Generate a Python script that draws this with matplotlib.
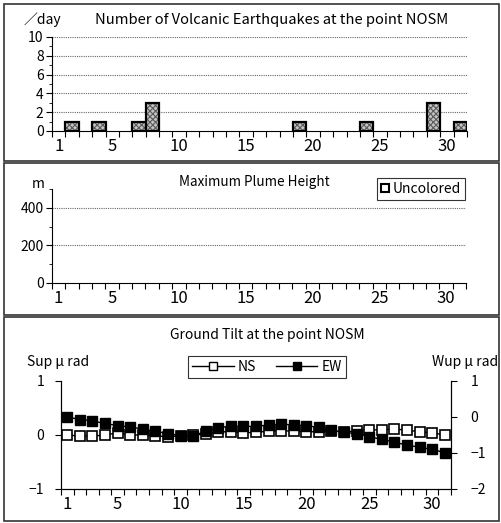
import numpy as np
import matplotlib
matplotlib.use('Agg')
from matplotlib import pyplot as plt
from matplotlib.patches import Rectangle
from matplotlib.lines import Line2D

plt.rcParams['font.family'] = ['Noto Sans CJK JP', 'DejaVu Sans']
plt.rcParams['hatch.linewidth'] = 0.8

W, H = 501, 523

days = np.arange(1, 32)
quake_days = [2, 4, 7, 8, 19, 24, 29, 31]
quake_counts = [1, 1, 1, 3, 1, 1, 3, 1]

ns_tilt = [0.0, -0.02, -0.02, 0.0, 0.04, 0.0, 0.0, -0.02, -0.03, -0.02,
           0.0, 0.02, 0.06, 0.06, 0.04, 0.05, 0.07, 0.08, 0.07, 0.06,
           0.06, 0.08, 0.06, 0.07, 0.09, 0.1, 0.11, 0.09, 0.06, 0.04, 0.0]
ew_tilt = [0.0, -0.07, -0.11, -0.18, -0.24, -0.28, -0.33, -0.4, -0.46, -0.52,
           -0.52, -0.4, -0.3, -0.25, -0.26, -0.26, -0.22, -0.2, -0.22, -0.24,
           -0.29, -0.37, -0.43, -0.46, -0.55, -0.62, -0.7, -0.78, -0.84, -0.9, -0.99]

xlabels = [1, 5, 10, 15, 20, 25, 30]


def px(l, t, r, b):
    return [l / W, 1 - b / H, (r - l) / W, (b - t) / H]


def day_axis(ax):
    ax.set_xlim(0.5, 31.5)
    ax.set_xticks(np.arange(0.5, 32, 1))
    ax.set_xticklabels([])
    ax.set_xticks(xlabels, minor=True)
    ax.set_xticklabels([str(d) for d in xlabels], minor=True, fontsize=12)
    ax.tick_params(axis='x', which='major', length=4, width=0.8, direction='out')
    ax.tick_params(axis='x', which='minor', length=0, pad=5)


fig = plt.figure(figsize=(W / 100, H / 100), dpi=100)

# panel frames
for (l, t, r, b) in [(4, 4, 499, 161), (4, 163, 499, 315), (4, 317, 499, 521)]:
    fig.patches.append(Rectangle((l / W, 1 - b / H), (r - l) / W, (b - t) / H,
                                 transform=fig.transFigure, fill=False,
                                 edgecolor='#333333', linewidth=1.2))

grid_kw = dict(color='#666666', linewidth=0.8, linestyle=(0, (1, 1)))

# --- earthquakes ---
ax1 = fig.add_axes(px(52, 37, 467, 131))
ax1.bar(quake_days, quake_counts, width=1.0, facecolor='#c4c4c4',
        edgecolor='#5a5a5a', linewidth=0, hatch='xxxxxx', zorder=3)
ax1.bar(quake_days, quake_counts, width=1.0, fill=False,
        edgecolor='black', linewidth=1.6, zorder=4)
ax1.set_ylim(0, 10)
ax1.set_yticks([0, 2, 4, 6, 8, 10])
ax1.set_yticks([1, 3, 5, 7, 9], minor=True)
for v in [2, 4, 6, 8, 10]:
    ax1.axhline(v, **grid_kw, zorder=1)
day_axis(ax1)
ax1.tick_params(axis='y', which='major', length=4, labelsize=10, pad=2)
ax1.tick_params(axis='y', which='minor', length=2)
for s in ['top', 'right']:
    ax1.spines[s].set_visible(False)
fig.text(272 / W, 1 - 20 / H, 'Number of Volcanic Earthquakes at the point NOSM',
         ha='center', va='center', fontsize=10.6)
fig.text(24 / W, 1 - 20 / H, '／day', ha='left', va='center', fontsize=10)

# --- plume ---
ax2 = fig.add_axes(px(52, 189, 466, 283))
ax2.set_ylim(0, 500)
ax2.set_yticks([0, 200, 400])
ax2.set_yticks([100, 300, 500], minor=True)
for v in [200, 400]:
    ax2.axhline(v, **grid_kw, zorder=1)
day_axis(ax2)
ax2.tick_params(axis='y', which='major', length=4, labelsize=10, pad=2)
ax2.tick_params(axis='y', which='minor', length=2)
for s in ['top', 'right']:
    ax2.spines[s].set_visible(False)
fig.text(254 / W, 1 - 182 / H, 'Maximum Plume Height', ha='center', va='center', fontsize=9.7)
fig.text(32 / W, 1 - 184 / H, 'm', ha='left', va='center', fontsize=10)
h_unc = Line2D([], [], linestyle='none', marker='s', markersize=6,
               markerfacecolor='white', markeredgecolor='black', markeredgewidth=1.5)
leg2 = fig.legend([h_unc], ['Uncolored'], loc='upper left',
                  bbox_to_anchor=(377 / W, 1 - 178 / H), fontsize=10,
                  frameon=True, fancybox=False, handlelength=0.6, handletextpad=0.2,
                  borderpad=0.3, borderaxespad=0)
leg2.get_frame().set_edgecolor('black')
leg2.get_frame().set_linewidth(0.8)

# --- tilt ---
ax3 = fig.add_axes(px(61, 381, 451, 489))
ax3r = ax3.twinx()
ax3.plot(days, ns_tilt, color='black', linewidth=1, marker='s', markersize=7.5,
         markerfacecolor='white', markeredgecolor='black', markeredgewidth=1.2, zorder=3)
ax3r.plot(days, ew_tilt, color='black', linewidth=1, marker='s', markersize=7.5,
          markerfacecolor='black', markeredgecolor='black', zorder=3)
ax3.set_ylim(-1, 1)
ax3.set_yticks([-1, 0, 1])
ax3r.set_ylim(-2, 1)
ax3r.set_yticks([-2, -1, 0, 1])
day_axis(ax3)
ax3.tick_params(axis='y', length=4, labelsize=10, pad=8)
ax3r.tick_params(axis='y', length=4, labelsize=10, pad=10)
for a in (ax3, ax3r):
    a.spines['top'].set_visible(False)
fig.text(267 / W, 1 - 335 / H, 'Ground Tilt at the point NOSM', ha='center', va='center', fontsize=10)
fig.text(27 / W, 1 - 362 / H, 'Sup \u03bc rad', ha='left', va='center', fontsize=10)
fig.text(498 / W, 1 - 362 / H, 'Wup \u03bc rad', ha='right', va='center', fontsize=10)
h_ns = Line2D([], [], color='black', linewidth=1, marker='s', markersize=6,
              markerfacecolor='white', markeredgecolor='black')
h_ew = Line2D([], [], color='black', linewidth=1, marker='s', markersize=6,
              markerfacecolor='black', markeredgecolor='black')
leg3 = fig.legend([h_ns, h_ew], ['NS', 'EW'], loc='upper left', ncol=2,
                  bbox_to_anchor=(188 / W, 1 - 356 / H), fontsize=10,
                  frameon=True, fancybox=False, handlelength=3.0, handletextpad=0.3,
                  columnspacing=1.4, borderpad=0.3, borderaxespad=0)
leg3.get_frame().set_edgecolor('black')
leg3.get_frame().set_linewidth(0.8)

fig.savefig('out.png', dpi=100)
